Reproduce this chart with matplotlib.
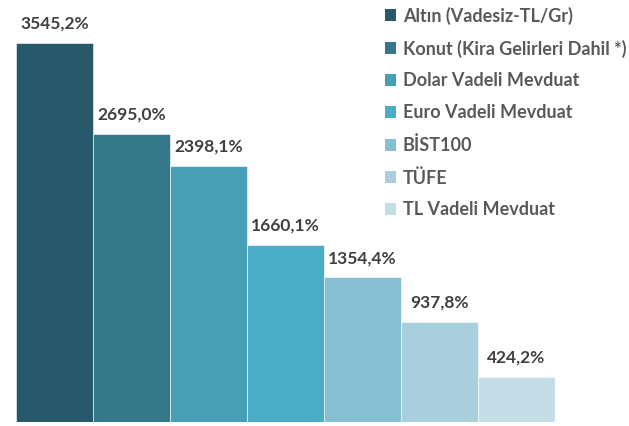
import matplotlib.pyplot as plt
from matplotlib.patches import Patch

labels = ['Altın (Vadesiz-TL/Gr)', 'Konut (Kira Gelirleri Dahil *)',
          'Dolar Vadeli Mevduat', 'Euro Vadeli Mevduat', 'BİST100',
          'TÜFE', 'TL Vadeli Mevduat']
values = [3545.2, 2695.0, 2398.1, 1660.1, 1354.4, 937.8, 424.2]
colors = ['#27596b', '#35788a', '#479eb5', '#4bacc6',
          '#85bfd1', '#a9cfdd', '#c4dde6']

plt.rcParams['font.family'] = ['Lato', 'DejaVu Sans']

fig = plt.figure(figsize=(6.29, 4.26), dpi=100)
ax = fig.add_axes([16/629, 4/426, 539/629, 422/426])

x = list(range(len(values)))
ax.bar(x, values, width=1.0, color=colors, edgecolor='#ffffff', linewidth=0.4)
for xi, v in zip(x, values):
    ax.annotate(('%.1f%%' % v).replace('.', ','), (xi, v), xytext=(0, 8),
                textcoords='offset points', ha='center', va='bottom',
                fontsize=12.5, fontweight='bold', color='#404040')

ax.set_xlim(-0.5, 6.5)
ax.set_ylim(0, 3947)
ax.axis('off')

handles = [Patch(facecolor=c, edgecolor='none') for c in colors]
fig.legend(handles, labels, loc='upper left', bbox_to_anchor=(372/629, 1 + 6/426),
           frameon=False, handlelength=0.65, handleheight=0.65,
           handletextpad=0.35, labelspacing=0.82, borderpad=0.2,
           prop={'weight': 'bold', 'size': 13}, labelcolor='#595959')

fig.savefig('out.png', dpi=100)
